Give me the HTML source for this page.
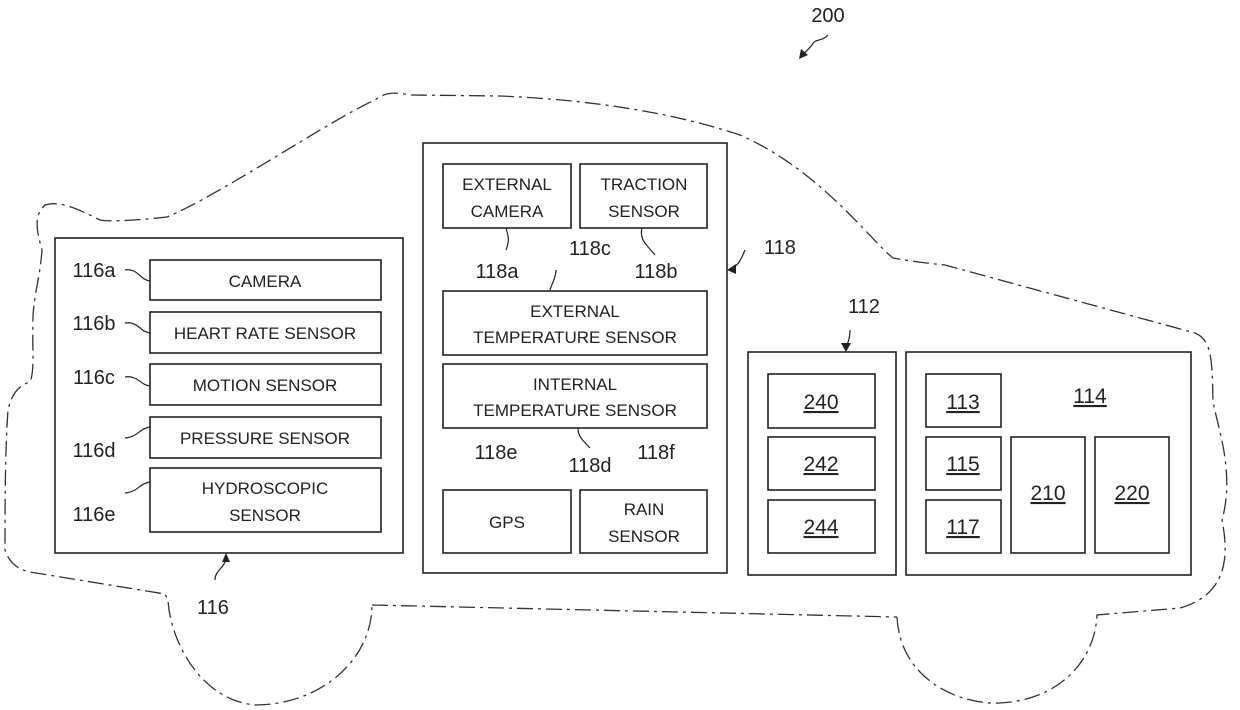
<!DOCTYPE html>
<html><head><style>body{margin:0;background:#fff}svg{display:block}</style></head><body>
<svg width="1240" height="710" viewBox="0 0 1240 710" xmlns="http://www.w3.org/2000/svg" font-family="Liberation Sans, Arial, sans-serif">
<g fill="none" stroke="#333" stroke-width="1.3" stroke-dasharray="16,5,3,5">
<path d="M372,605 L897,617"/>
<path d="M897,617 C900,680 960,705 1000,703 C1060,700 1095,660 1097,615 L1180,608 C1225,595 1230,560 1222,520 C1236,470 1215,420 1213,400 C1212,360 1212,340 1195,333 L945,265 C915,262 905,260 893,258 C870,240 820,170 740,135 C680,115 600,100 500,96 L410,95 C395,92 385,92 375,100 C330,120 220,195 167,217 C140,220 110,222 100,220 C80,210 60,200 45,205 C35,215 35,225 42,250 C40,280 32,300 33,325 C32,350 35,370 30,382 C20,385 12,392 8,410 C5,450 5,510 5,550 C10,565 20,570 30,572 L165,594 L168,600 C170,640 200,700 255,705 C320,705 372,660 372,605"/>
</g>
<g fill="none" stroke="#222" stroke-width="1.6">
<rect x="55" y="238" width="348" height="315"/>
<rect x="150" y="260" width="231" height="40"/>
<rect x="150" y="312" width="231" height="41"/>
<rect x="150" y="364" width="231" height="41"/>
<rect x="150" y="417" width="231" height="41"/>
<rect x="150" y="468" width="231" height="64"/>
<rect x="423" y="143" width="304" height="430"/>
<rect x="443" y="164" width="128" height="64"/>
<rect x="580" y="164" width="127" height="64"/>
<rect x="443" y="291" width="264" height="64"/>
<rect x="443" y="364" width="264" height="64"/>
<rect x="443" y="490" width="128" height="63"/>
<rect x="580" y="490" width="127" height="63"/>
<rect x="748" y="352" width="148" height="223"/>
<rect x="768" y="374" width="107" height="54"/>
<rect x="768" y="437" width="107" height="53"/>
<rect x="768" y="500" width="107" height="53"/>
<rect x="906" y="352" width="285" height="223"/>
<rect x="926" y="374" width="75" height="53"/>
<rect x="926" y="437" width="75" height="53"/>
<rect x="926" y="500" width="75" height="53"/>
<rect x="1011" y="437" width="74" height="116"/>
<rect x="1095" y="437" width="74" height="116"/>
</g>
<g fill="none" stroke="#222" stroke-width="1.2">
<path d="M125,270 C138,268 140,280 150,281"/>
<path d="M125,323 C138,321 140,332 150,333"/>
<path d="M125,377 C138,375 140,385 150,386"/>
<path d="M125,438 C138,437 140,428 150,427"/>
<path d="M125,493 C138,492 140,483 150,482"/>
<path d="M215,580 C215,570 225,568 226,558"/>
<path d="M506,250 C510,240 508,235 506,228"/>
<path d="M642,228 C639,240 647,245 655,255"/>
<path d="M556,270 C556,278 552,283 550,290"/>
<path d="M578,428 C578,438 585,442 590,448"/>
<path d="M745,250 C740,262 738,265 732,268"/>
<path d="M850,330 C850,338 848,342 846,348"/>
<path d="M828,35 C822,42 815,38 812,45 C808,50 805,52 801,56"/>
</g>
<g fill="#222">
<path d="M226,553 L222,562 L230,562 Z"/>
<path d="M727,270 L736,264 L736,274 Z"/>
<path d="M846,352 L841,343 L851,343 Z"/>
<path d="M799,59 L801,49 L808,55 Z"/>
</g>
<g font-size="20" fill="#222" text-anchor="middle">
<text x="94" y="277">116a</text>
<text x="94" y="330">116b</text>
<text x="94" y="384">116c</text>
<text x="94" y="457">116d</text>
<text x="94" y="521">116e</text>
<text x="213" y="614">116</text>
<text x="497" y="278">118a</text>
<text x="590" y="255">118c</text>
<text x="656" y="278">118b</text>
<text x="496" y="459">118e</text>
<text x="590" y="472">118d</text>
<text x="656" y="459">118f</text>
<text x="780" y="254">118</text>
<text x="864" y="313">112</text>
<text x="828" y="22">200</text>
</g>
<g font-size="17" fill="#222" text-anchor="middle">
<text x="265" y="287">CAMERA</text>
<text x="265" y="339">HEART RATE SENSOR</text>
<text x="265" y="391">MOTION SENSOR</text>
<text x="265" y="444">PRESSURE SENSOR</text>
<text x="265" y="494">HYDROSCOPIC</text>
<text x="265" y="521">SENSOR</text>
<text x="507" y="190">EXTERNAL</text>
<text x="507" y="217">CAMERA</text>
<text x="644" y="190">TRACTION</text>
<text x="644" y="217">SENSOR</text>
<text x="575" y="317">EXTERNAL</text>
<text x="575" y="343">TEMPERATURE SENSOR</text>
<text x="575" y="390">INTERNAL</text>
<text x="575" y="416">TEMPERATURE SENSOR</text>
<text x="507" y="528">GPS</text>
<text x="644" y="515">RAIN</text>
<text x="644" y="542">SENSOR</text>
</g>
<g font-size="21" fill="#222" text-anchor="middle" text-decoration="underline">
<text x="821" y="409">240</text>
<text x="821" y="471">242</text>
<text x="821" y="534">244</text>
<text x="963" y="409">113</text>
<text x="963" y="471">115</text>
<text x="963" y="534">117</text>
<text x="1048" y="500">210</text>
<text x="1132" y="500">220</text>
<text x="1090" y="403">114</text>
</g>
</svg>
</body></html>
